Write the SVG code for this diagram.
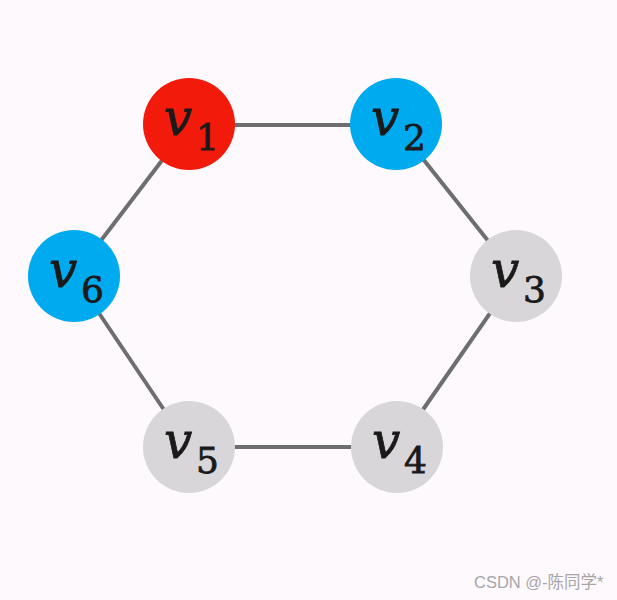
<svg xmlns="http://www.w3.org/2000/svg" width="617" height="600" viewBox="0 0 617 600">
<style>
.edge{stroke:#6e6e6e;stroke-width:4;fill:none}
.red{fill:#f21a0a}
.blue{fill:#00aaee}
.gray{fill:#d8d6d8}
.v{font-family:"DejaVu Serif",serif;font-style:italic;font-size:50px;fill:#1a1a1a;stroke:#1a1a1a;stroke-width:0.8}
.s{font-family:"DejaVu Serif",serif;font-size:36px;fill:#1a1a1a;stroke:#1a1a1a;stroke-width:0.8}
.wm{font-family:"Liberation Sans","Noto Sans CJK SC",sans-serif;font-size:16.5px;fill:#a8a6a8}
</style>
<rect width="617" height="600" fill="#fdf9fd"/>
<g id="edges">
<line class="edge" x1="189" y1="125" x2="396" y2="125"/>
<line class="edge" x1="396" y1="125" x2="516" y2="276"/>
<line class="edge" x1="516" y1="276" x2="397" y2="447"/>
<line class="edge" x1="397" y1="447" x2="189" y2="447"/>
<line class="edge" x1="189" y1="447" x2="74" y2="276"/>
<line class="edge" x1="74" y1="276" x2="189" y2="125"/>
</g>
<g id="v1"><circle class="red" cx="189" cy="124" r="46"/><text x="164" y="135" class="v">v</text><text x="196" y="150" class="s">1</text></g>
<g id="v2"><circle class="blue" cx="396" cy="124" r="46"/><text x="371" y="135" class="v">v</text><text x="403" y="150" class="s">2</text></g>
<g id="v3"><circle class="gray" cx="516" cy="276" r="46"/><text x="491" y="287" class="v">v</text><text x="523" y="302" class="s">3</text></g>
<g id="v4"><circle class="gray" cx="397" cy="447" r="46"/><text x="372" y="458" class="v">v</text><text x="404" y="473" class="s">4</text></g>
<g id="v5"><circle class="gray" cx="189" cy="447" r="46"/><text x="164" y="458" class="v">v</text><text x="196" y="473" class="s">5</text></g>
<g id="v6"><circle class="blue" cx="74" cy="276" r="46"/><text x="49" y="287" class="v">v</text><text x="81" y="302" class="s">6</text></g>
<text x="474" y="588" class="wm">CSDN @-陈同学*</text>
</svg>
